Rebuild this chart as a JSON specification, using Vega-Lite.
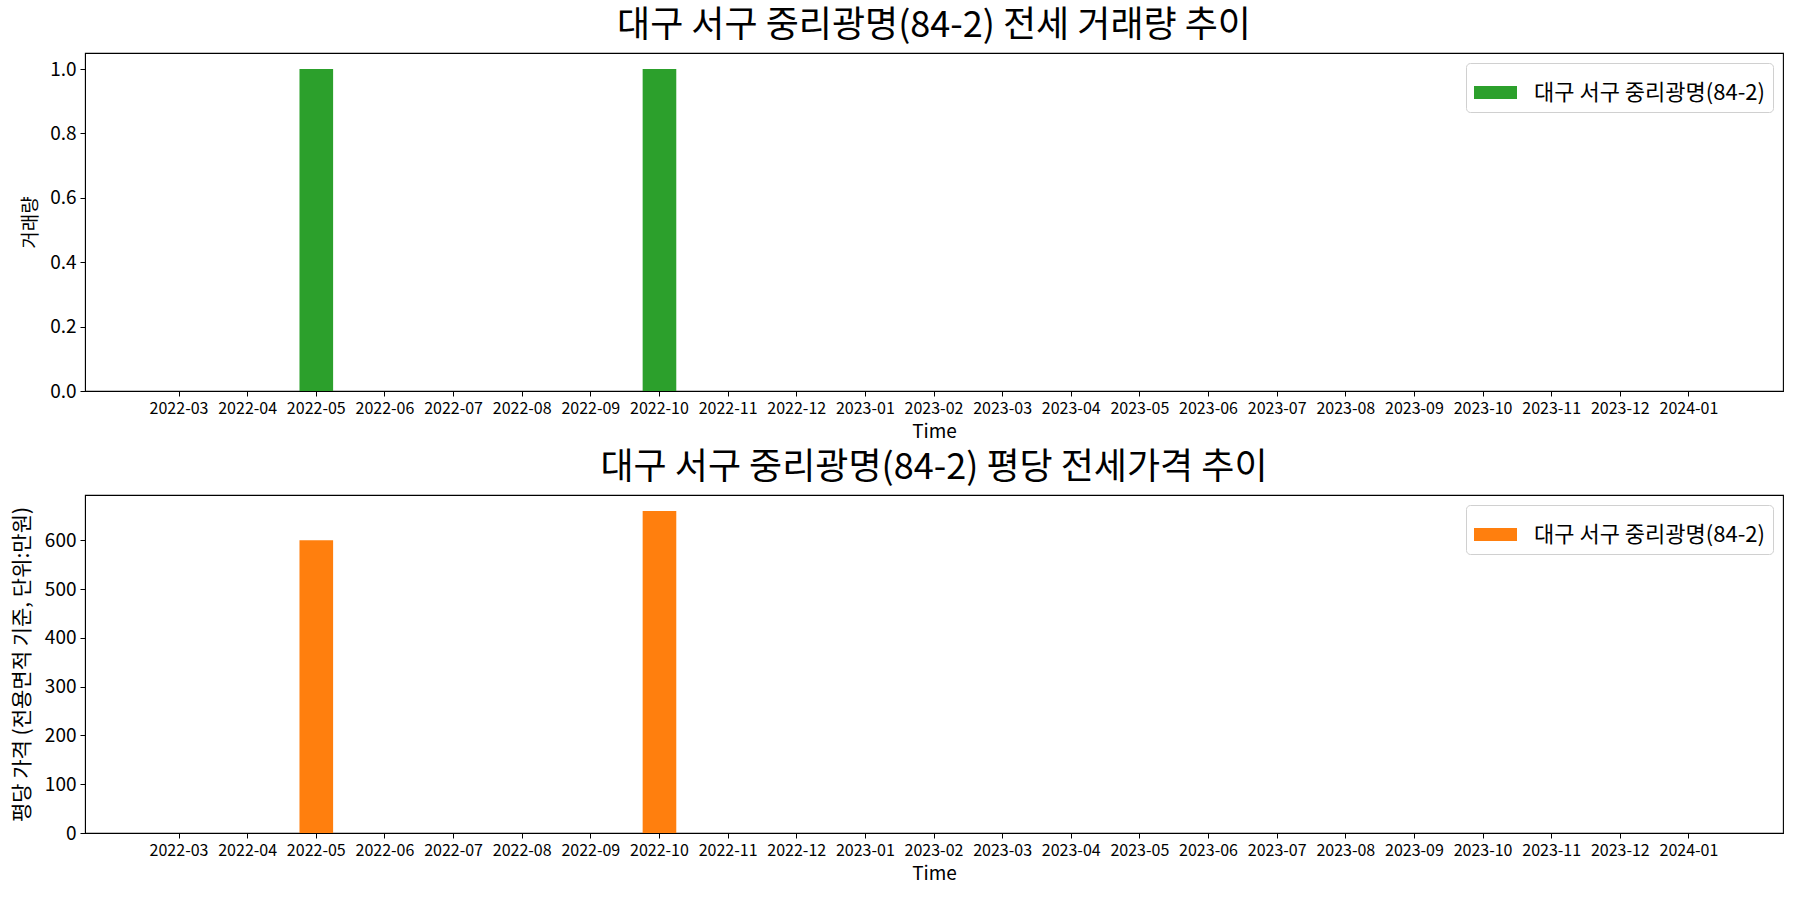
{
  "$schema": "https://vega.github.io/schema/vega-lite/v6.json",
  "padding": {"left": 10, "top": 7, "right": 0, "bottom": 0},
  "background": "white",
  "spacing": 7,
  "config": {
    "font": "Noto Sans CJK KR",
    "view": {"stroke": "black", "strokeWidth": 1.1},
    "axis": {
      "domainColor": "black",
      "tickColor": "black",
      "labelColor": "black",
      "titleColor": "black",
      "grid": false,
      "tickSize": 5,
      "labelPadding": 4,
      "titleFontWeight": "normal",
      "titleFontSize": 19,
      "labelFont": "Noto Sans CJK KR",
      "titleFont": "Noto Sans CJK KR"
    },
    "axisX": {"labelFontSize": 16, "labelAngle": 0, "titlePadding": 6},
    "axisY": {"labelFontSize": 19},
    "title": {"fontSize": 36, "fontWeight": "normal", "baseline": "alphabetic", "offset": 8, "anchor": "middle", "font": "Noto Sans CJK KR"},
    "legend": {
      "orient": "top-right",
      "offset": 10,
      "title": null,
      "fillColor": "white",
      "strokeColor": "#d0d0d0",
      "cornerRadius": 4,
      "padding": 8,
      "labelFontSize": 22,
      "labelLimit": 0,
      "labelFont": "Noto Sans CJK KR",
      "labelColor": "black",
      "labelOffset": 17,
      "symbolType": "M-1,-0.3H1V0.3H-1Z",
      "symbolSize": 1849,
      "symbolStrokeWidth": 0
    }
  },
  "datasets": {
    "volume": [
      {"month": "2022-03", "name": "대구 서구 중리광명(84-2)", "count": 0},
      {"month": "2022-04", "name": "대구 서구 중리광명(84-2)", "count": 0},
      {"month": "2022-05", "name": "대구 서구 중리광명(84-2)", "count": 1},
      {"month": "2022-06", "name": "대구 서구 중리광명(84-2)", "count": 0},
      {"month": "2022-07", "name": "대구 서구 중리광명(84-2)", "count": 0},
      {"month": "2022-08", "name": "대구 서구 중리광명(84-2)", "count": 0},
      {"month": "2022-09", "name": "대구 서구 중리광명(84-2)", "count": 0},
      {"month": "2022-10", "name": "대구 서구 중리광명(84-2)", "count": 1},
      {"month": "2022-11", "name": "대구 서구 중리광명(84-2)", "count": 0},
      {"month": "2022-12", "name": "대구 서구 중리광명(84-2)", "count": 0},
      {"month": "2023-01", "name": "대구 서구 중리광명(84-2)", "count": 0},
      {"month": "2023-02", "name": "대구 서구 중리광명(84-2)", "count": 0},
      {"month": "2023-03", "name": "대구 서구 중리광명(84-2)", "count": 0},
      {"month": "2023-04", "name": "대구 서구 중리광명(84-2)", "count": 0},
      {"month": "2023-05", "name": "대구 서구 중리광명(84-2)", "count": 0},
      {"month": "2023-06", "name": "대구 서구 중리광명(84-2)", "count": 0},
      {"month": "2023-07", "name": "대구 서구 중리광명(84-2)", "count": 0},
      {"month": "2023-08", "name": "대구 서구 중리광명(84-2)", "count": 0},
      {"month": "2023-09", "name": "대구 서구 중리광명(84-2)", "count": 0},
      {"month": "2023-10", "name": "대구 서구 중리광명(84-2)", "count": 0},
      {"month": "2023-11", "name": "대구 서구 중리광명(84-2)", "count": 0},
      {"month": "2023-12", "name": "대구 서구 중리광명(84-2)", "count": 0},
      {"month": "2024-01", "name": "대구 서구 중리광명(84-2)", "count": 0}
    ],
    "price": [
      {"month": "2022-03", "name": "대구 서구 중리광명(84-2)", "price": 0},
      {"month": "2022-04", "name": "대구 서구 중리광명(84-2)", "price": 0},
      {"month": "2022-05", "name": "대구 서구 중리광명(84-2)", "price": 600},
      {"month": "2022-06", "name": "대구 서구 중리광명(84-2)", "price": 0},
      {"month": "2022-07", "name": "대구 서구 중리광명(84-2)", "price": 0},
      {"month": "2022-08", "name": "대구 서구 중리광명(84-2)", "price": 0},
      {"month": "2022-09", "name": "대구 서구 중리광명(84-2)", "price": 0},
      {"month": "2022-10", "name": "대구 서구 중리광명(84-2)", "price": 660},
      {"month": "2022-11", "name": "대구 서구 중리광명(84-2)", "price": 0},
      {"month": "2022-12", "name": "대구 서구 중리광명(84-2)", "price": 0},
      {"month": "2023-01", "name": "대구 서구 중리광명(84-2)", "price": 0},
      {"month": "2023-02", "name": "대구 서구 중리광명(84-2)", "price": 0},
      {"month": "2023-03", "name": "대구 서구 중리광명(84-2)", "price": 0},
      {"month": "2023-04", "name": "대구 서구 중리광명(84-2)", "price": 0},
      {"month": "2023-05", "name": "대구 서구 중리광명(84-2)", "price": 0},
      {"month": "2023-06", "name": "대구 서구 중리광명(84-2)", "price": 0},
      {"month": "2023-07", "name": "대구 서구 중리광명(84-2)", "price": 0},
      {"month": "2023-08", "name": "대구 서구 중리광명(84-2)", "price": 0},
      {"month": "2023-09", "name": "대구 서구 중리광명(84-2)", "price": 0},
      {"month": "2023-10", "name": "대구 서구 중리광명(84-2)", "price": 0},
      {"month": "2023-11", "name": "대구 서구 중리광명(84-2)", "price": 0},
      {"month": "2023-12", "name": "대구 서구 중리광명(84-2)", "price": 0},
      {"month": "2024-01", "name": "대구 서구 중리광명(84-2)", "price": 0}
    ]
  },
  "resolve": {"scale": {"color": "independent", "x": "independent", "y": "independent"}, "legend": {"color": "independent"}},
  "vconcat": [
    {
      "title": "대구 서구 중리광명(84-2) 전세 거래량 추이",
      "width": 1698,
      "height": 338,
      "data": {"name": "volume"},
      "mark": {"type": "bar", "width": {"band": 0.49}},
      "encoding": {
        "x": {"field": "month", "type": "ordinal", "title": "Time", "sort": null,
              "scale": {"paddingInner": 0, "paddingOuter": 0.87}},
        "y": {"field": "count", "type": "quantitative", "title": "거래량",
              "scale": {"domain": [0, 1.05], "nice": false},
              "axis": {"values": [0, 0.2, 0.4, 0.6, 0.8, 1.0], "format": ".1f", "titleX": -55, "titleBaseline": "middle"}},
        "color": {"field": "name", "type": "nominal",
                  "scale": {"range": ["#2ca02c"]}}
      }
    },
    {
      "title": "대구 서구 중리광명(84-2) 평당 전세가격 추이",
      "width": 1698,
      "height": 338,
      "data": {"name": "price"},
      "mark": {"type": "bar", "width": {"band": 0.49}},
      "encoding": {
        "x": {"field": "month", "type": "ordinal", "title": "Time", "sort": null,
              "scale": {"paddingInner": 0, "paddingOuter": 0.87}},
        "y": {"field": "price", "type": "quantitative", "title": "평당 가격 (전용면적 기준, 단위:만원)",
              "scale": {"domain": [0, 693], "nice": false},
              "axis": {"values": [0, 100, 200, 300, 400, 500, 600], "titleX": -63, "titleBaseline": "middle", "titleFontSize": 21}},
        "color": {"field": "name", "type": "nominal",
                  "scale": {"range": ["#ff7f0e"]}}
      }
    }
  ]
}
